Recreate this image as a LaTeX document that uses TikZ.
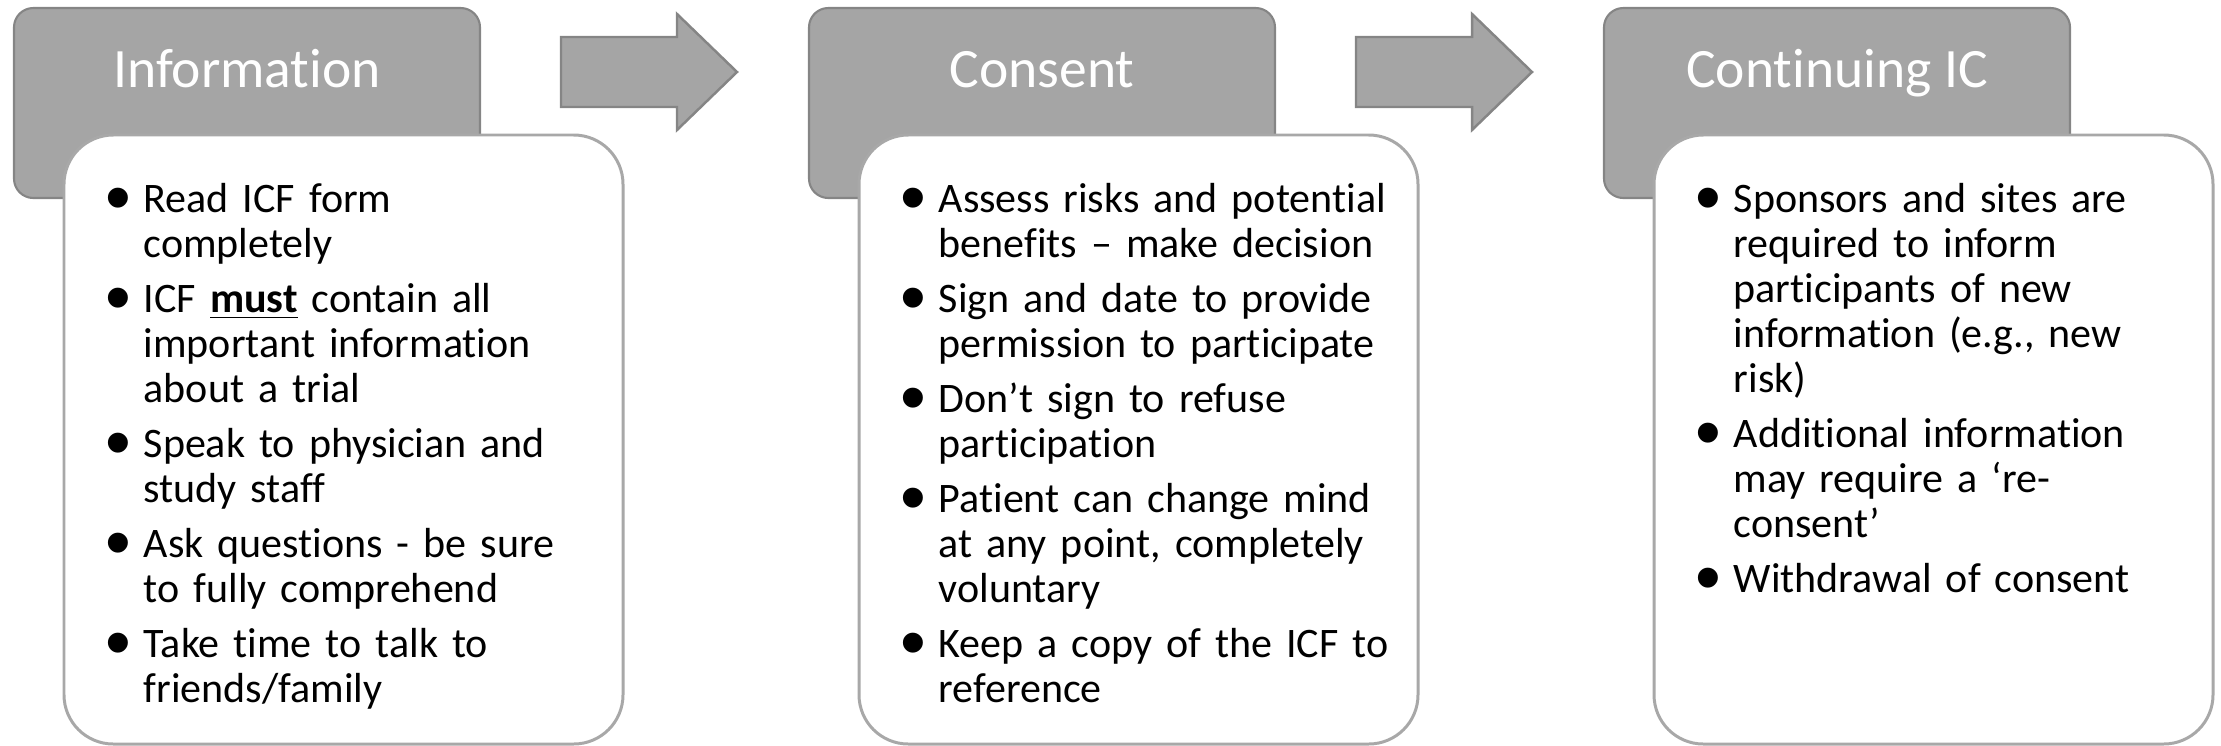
\documentclass[tikz,border=0pt]{standalone}
\usepackage{fontspec}
\setmainfont{Carlito}[Ligatures=NoCommon]
\newfontfamily\bulletfont{Liberation Sans}
\definecolor{headgray}{HTML}{A5A5A5}
\definecolor{headedge}{HTML}{858585}
\definecolor{cardedge}{HTML}{A8A8A8}
\newcommand\cardfont{\fontsize{11.95pt}{12.8pt}\selectfont}
\newcommand\carddot{\raisebox{-3pt}{\scalebox{1.75}{\bulletfont\textbullet}}}
\newcommand\bitem[1]{{\setlength{\parskip}{2.85pt}\let\\\newline
  \hangindent=2.3mm\hangafter=1\noindent\makebox[2.3mm][l]{\hspace{-1.55mm}\carddot}#1\par}}
\tikzset{
  head/.style={draw=headedge, fill=headgray, line width=0.6pt, rounded corners=5.5pt},
  card/.style={draw=cardedge, fill=white, line width=0.85pt, rounded corners=14pt},
  blockarrow/.style={draw=headedge, fill=headgray, line width=0.7pt},
  title/.style={anchor=base, inner sep=0pt, text=white, font=\fontsize{15.8pt}{18pt}\selectfont},
  items/.style={anchor=base west, inner sep=0pt, text width=5cm, align=left, font=\cardfont}
}
\begin{document}
\begin{tikzpicture}[x=0.01cm, y=-0.01cm]
\useasboundingbox (0,0) rectangle (2221,745);

\draw[head] (14,8) rectangle (480,198);
\draw[card] (64,135) rectangle (623,744);
\node[title] (info) at (247,87) {Information};
\node[items] (infoitems) at (120,212) {%
\bitem{Read ICF form\\completely}
\bitem{ICF \textbf{\underline{must}} contain all\\important information\\about a trial}
\bitem{Speak to physician and\\study staff}
\bitem{Ask questions - be sure\\to fully comprehend}
\bitem{Take time to talk to\\friends/family}};

\draw[blockarrow] (561,37) -- (677,37) -- (677,14) -- (737,72) -- (677,130) -- (677,107) -- (561,107) -- cycle;

\draw[head] (809,8) rectangle (1275,198);
\draw[card] (859,135) rectangle (1418,744);
\node[title] (consent) at (1042,87) {Consent};
\node[items] (consentitems) at (915,212) {%
\bitem{Assess risks and potential\\benefits – make decision}
\bitem{Sign and date to provide\\permission to participate}
\bitem{Don’t sign to refuse\\participation}
\bitem{Patient can change mind\\at any point, completely\\voluntary}
\bitem{Keep a copy of the ICF to\\reference}};

\draw[blockarrow] (1356,37) -- (1472,37) -- (1472,14) -- (1532,72) -- (1472,130) -- (1472,107) -- (1356,107) -- cycle;

\draw[head] (1604,8) rectangle (2070,198);
\draw[card] (1654,135) rectangle (2213,744);
\node[title] (contic) at (1837,87) {Continuing IC};
\node[items] (conticitems) at (1710,212) {%
\bitem{Sponsors and sites are\\required to inform\\participants of new\\information (e.g., new\\risk)}
\bitem{Additional information\\may require a ‘re-\\consent’}
\bitem{Withdrawal of consent}};

\end{tikzpicture}
\end{document}
